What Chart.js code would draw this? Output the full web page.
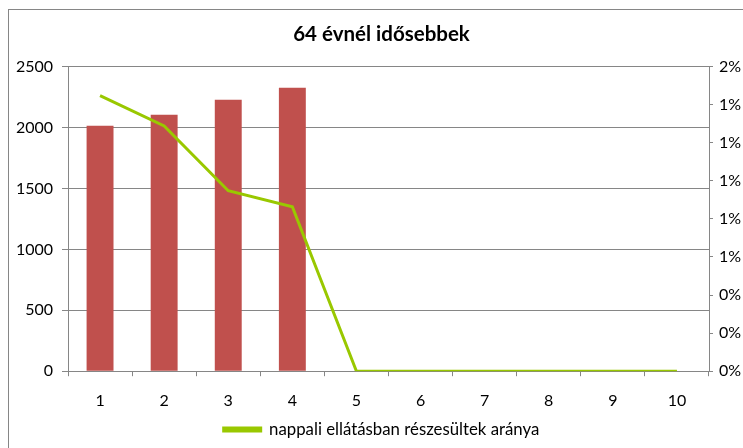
<!DOCTYPE html>
<html>
<head>
<meta charset="utf-8">
<script src="https://cdn.jsdelivr.net/npm/chart.js@4.4.0/dist/chart.umd.min.js"></script>
<style>
  html, body { margin: 0; padding: 0; background: #fff; }
  #wrap { position: relative; width: 743px; height: 448px; overflow: hidden; }
  #frame { position: absolute; left: 8px; top: 9px; width: 800px; height: 500px; border: 1px solid #868686; }
  canvas { position: absolute; left: 0; top: 0; }
</style>
</head>
<body>
<div id="wrap">
  <div id="frame"></div>
  <!-- wider than the window: the original chart frame runs past the right edge -->
  <canvas id="myChart" width="763" height="448"></canvas>
</div>
<script>
var categories = ['1', '2', '3', '4', '5', '6', '7', '8', '9', '10'];
var letszam = [2015, 2105, 2228, 2327, null, null, null, null, null, null];
var arany = [0.0181, 0.0161, 0.01185, 0.0108, 0, 0, 0, 0, 0, 0];
var rightTickLabels = ['0%', '0%', '0%', '1%', '1%', '1%', '1%', '1%', '2%'];

var fontName = 'Lato, "Open Sans", sans-serif';
var gridColor = '#868686';

var ctx = document.getElementById('myChart').getContext('2d');
var myChart = new Chart(ctx, {
    type: 'bar',
    data: {
        labels: categories,
        datasets: [
            {
                type: 'line',
                label: 'nappali ellátásban részesültek aránya',
                data: arany,
                borderColor: '#99C800',
                backgroundColor: '#99C800',
                borderWidth: 3,
                pointRadius: 0,
                tension: 0,
                yAxisID: 'y1',
                order: 0
            },
            {
                label: 'létszám',
                data: letszam,
                backgroundColor: '#C0504D',
                barPercentage: 0.42,
                categoryPercentage: 1,
                yAxisID: 'y',
                order: 1
            }
        ]
    },
    options: {
        responsive: false,
        animation: false,
        layout: { padding: 0 },
        plugins: {
            title: {
                display: true,
                text: '64 évnél idősebbek',
                color: '#000',
                font: { family: fontName, size: 20.5, weight: 'bold' },
                padding: { top: 22, bottom: 20 }
            },
            legend: {
                position: 'bottom',
                labels: {
                    filter: function (item) { return item.datasetIndex === 0; },
                    boxWidth: 37,
                    boxHeight: 3,
                    color: '#000',
                    font: { family: fontName, size: 16.8 },
                    padding: 6
                }
            },
            tooltip: { enabled: false }
        },
        scales: {
            x: {
                grid: { display: true, drawOnChartArea: false, color: gridColor, tickLength: 5, offset: true },
                border: { color: gridColor },
                ticks: { color: '#000', font: { family: fontName, size: 16 }, padding: 15 },
                afterFit: function (scale) { scale.height = 44; }
            },
            y: {
                position: 'left',
                min: 0,
                max: 2500,
                ticks: {
                    stepSize: 500,
                    color: '#000',
                    font: { family: fontName, size: 16 },
                    padding: 9,
                    callback: function (value) { return String(value); }
                },
                grid: { color: gridColor, tickLength: 6 },
                border: { color: gridColor },
                afterFit: function (scale) { scale.width = 68; }
            },
            y1: {
                position: 'right',
                min: 0,
                max: 0.02,
                ticks: {
                    stepSize: 0.0025,
                    color: '#000',
                    font: { family: fontName, size: 16 },
                    padding: 6,
                    callback: function (value, index) { return rightTickLabels[index]; }
                },
                grid: { drawOnChartArea: false, color: gridColor, tickLength: 4 },
                border: { color: gridColor },
                afterFit: function (scale) { scale.width = 54; }
            }
        }
    }
});
</script>
</body>
</html>
